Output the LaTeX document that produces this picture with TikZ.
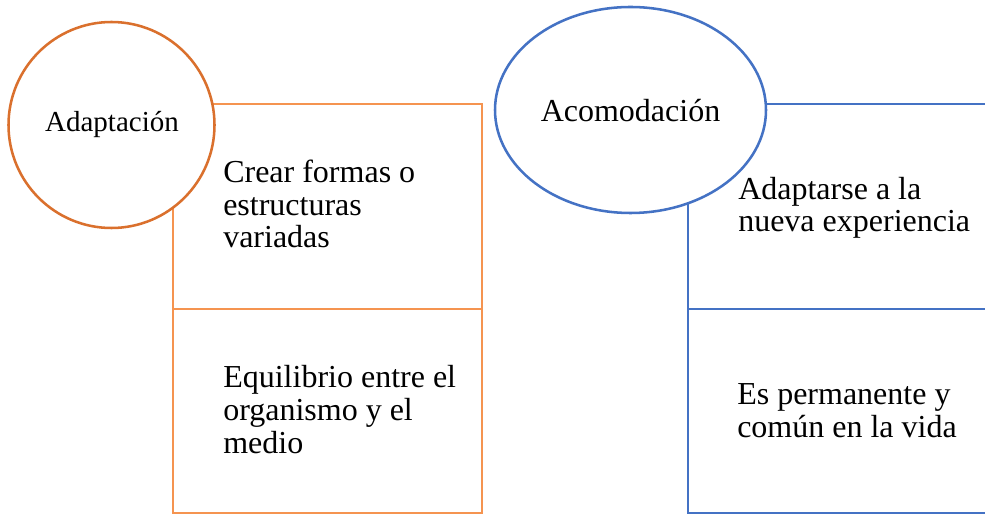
\documentclass[tikz,border=0pt]{standalone}
\usepackage{fontspec}
\setmainfont{Liberation Serif}
\usetikzlibrary{shapes.geometric}
\definecolor{orcirc}{RGB}{218,112,45}
\definecolor{orrect}{RGB}{245,148,80}
\definecolor{blu}{RGB}{68,114,196}
\tikzset{
  boxline/.style={line width=1.9pt},
  txt/.style={anchor=base west, inner sep=0pt, align=left, font=\fontsize{24}{24.4}\selectfont},
}
\begin{document}
\begin{tikzpicture}[x=0.75pt,y=-0.75pt]
\useasboundingbox (0,0) rectangle (985,516);
% left rectangle
\draw[boxline, orrect] (173,104) rectangle (482,513);
\draw[boxline, orrect] (173,309) -- (482,309);
\node[circle, draw=orcirc, boxline, fill=white, minimum size=154.5pt, inner sep=0pt] (adap) at (111.5,125) {};
\node[inner sep=0pt, font=\fontsize{21.75}{24}\selectfont] (adapt) at (112,125) {Adaptación};
\node[txt] (t1) at (223,248) {Crear formas o\\estructuras\\variadas};
\node[txt] (t2) at (223,453) {Equilibrio entre el\\organismo y el\\medio};
% right rectangle
\draw[boxline, blu] (688,104) -- (990,104);
\draw[boxline, blu] (990,513) -- (688,513) -- (688,104);
\draw[boxline, blu] (688,309) -- (990,309);
\node[ellipse, draw=blu, boxline, fill=white, minimum width=203.25pt, minimum height=154.5pt, inner sep=0pt] (acom) at (630.5,110) {};
\node[inner sep=0pt, font=\fontsize{24}{24}\selectfont] (acomt) at (630.5,111) {Acomodación};
\node[txt] (t3) at (738,232) {Adaptarse a la\\nueva experiencia};
\node[txt] (t4) at (737,437) {Es permanente y\\común en la vida};
\end{tikzpicture}
\end{document}
